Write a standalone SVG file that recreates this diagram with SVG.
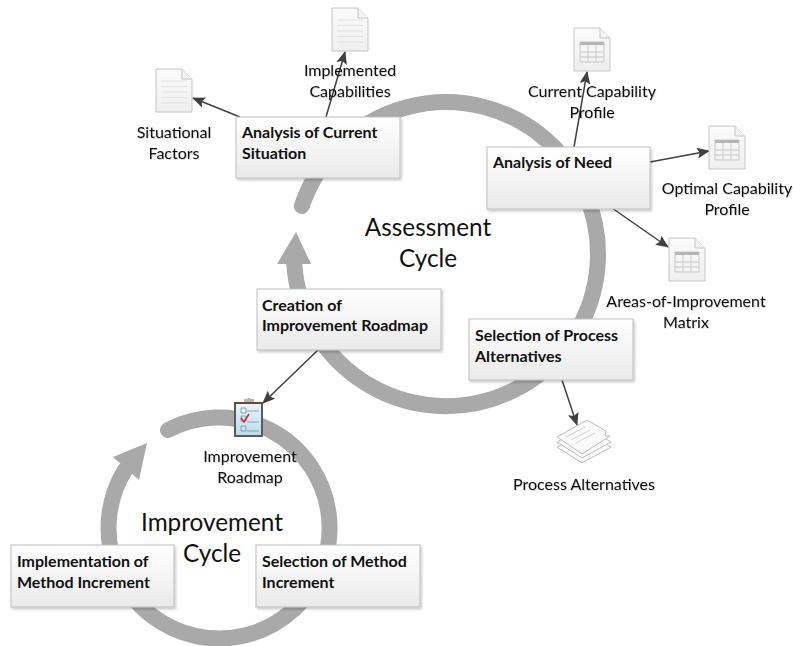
<svg xmlns="http://www.w3.org/2000/svg" xmlns:xlink="http://www.w3.org/1999/xlink" width="793" height="646" viewBox="0 0 793 646">
<style>
text{font-family:"Lato","Open Sans","Liberation Sans",sans-serif;fill:#111}
.lbl{font-size:16px;text-anchor:middle;filter:url(#ts)}
.big{font-size:24.300px;text-anchor:middle}
.b{font-size:16px;font-weight:700}
.box{fill:url(#boxg);stroke:#bdbdbd;stroke-width:1;filter:url(#ds)}
.ring{fill:none;stroke:#a9a9a9;stroke-width:16;stroke-linecap:round}
.head{fill:#a9a9a9}
.conn{stroke:#404040;stroke-width:1.5;fill:none;marker-end:url(#ah)}
.doc{fill:url(#docg);stroke:#c4c4c4;stroke-width:1}
.ln{stroke:#e2e2e2;stroke-width:1;fill:none}
.tb{fill:none;stroke:#c9c9c9;stroke-width:1}
.sheet{fill:#fafafa;stroke:#bdbdbd;stroke-width:1}
</style>
<defs>
<linearGradient id="boxg" x1="0" y1="0" x2="0" y2="1"><stop offset="0" stop-color="#ffffff"/><stop offset="1" stop-color="#eaeaea"/></linearGradient>
<linearGradient id="docg" x1="0" y1="0" x2="0" y2="1"><stop offset="0" stop-color="#fbfbfb"/><stop offset="1" stop-color="#efefef"/></linearGradient>
<linearGradient id="cb" x1="0" y1="0" x2="0" y2="1"><stop offset="0" stop-color="#e8f4fa"/><stop offset="1" stop-color="#b9dcec"/></linearGradient>
<filter id="ds" x="-5%" y="-5%" width="112%" height="115%"><feDropShadow dx="1.5" dy="2" stdDeviation="1" flood-color="#000" flood-opacity="0.2"/></filter>
<filter id="ts" x="-5%" y="-10%" width="110%" height="125%"><feDropShadow dx="0.6" dy="0.8" stdDeviation="0.6" flood-color="#000" flood-opacity="0.2"/></filter>
<marker id="ah" viewBox="0 0 13 11" refX="12" refY="5.500" markerWidth="13" markerHeight="11" markerUnits="userSpaceOnUse" orient="auto"><path d="M0 0L13 5.500L0 11L2.500 5.500Z" fill="#404040"/></marker>
<symbol id="page" overflow="visible"><path class="doc" d="M0 0H26L36 10V43H0Z"/><path d="M26 0V10H36" fill="#f4f4f4" stroke="#c4c4c4"/></symbol>
<symbol id="txtdoc" overflow="visible"><use xlink:href="#page"/><path class="ln" d="M5 12H31M5 17.500H31M5 23H31M5 28.500H31M5 34H31"/></symbol>
<symbol id="tbldoc" overflow="visible"><use xlink:href="#page"/><rect x="6" y="14" width="24" height="20" class="tb"/><rect x="6" y="14" width="24" height="3" fill="#b5b5b5"/><path class="tb" d="M14 17V34M22 17V34M6 24H30M6 29H30"/></symbol>
</defs>
<rect width="793" height="646" fill="#fff"/>
<g id="cycles">
<path class="ring" d="M301.800 206A152 152 0 1 1 294.300 264"/>
<path class="head" d="M296 232L277 264H311Z"/>
<path class="ring" d="M168 430A110.500 110.500 0 1 1 125 470"/>
<path class="head" d="M147 443L113 457L139 480Z"/>
</g>
<g id="connectors">
<line class="conn" x1="240" y1="117" x2="193" y2="98"/>
<line class="conn" x1="326" y1="117" x2="345" y2="52"/>
<line class="conn" x1="574" y1="147" x2="587" y2="72"/>
<line class="conn" x1="650" y1="162" x2="709" y2="151"/>
<line class="conn" x1="612" y1="208" x2="668" y2="247"/>
<line class="conn" x1="562" y1="380" x2="577" y2="425"/>
<line class="conn" x1="318" y1="350" x2="263" y2="403"/>
</g>
<g id="doc-situational"><use xlink:href="#txtdoc" x="156" y="69"/><text class="lbl" x="174" y="138">Situational</text><text class="lbl" x="174" y="159">Factors</text></g>
<g id="doc-implemented"><use xlink:href="#txtdoc" x="332" y="8"/><text class="lbl" x="350" y="76">Implemented</text><text class="lbl" x="350" y="97">Capabilities</text></g>
<g id="doc-current"><use xlink:href="#tbldoc" x="574" y="28"/><text class="lbl" x="592" y="97">Current Capability</text><text class="lbl" x="592" y="118">Profile</text></g>
<g id="doc-optimal"><use xlink:href="#tbldoc" x="709" y="126"/><text class="lbl" x="727" y="194">Optimal Capability</text><text class="lbl" x="727" y="215">Profile</text></g>
<g id="doc-areas"><use xlink:href="#tbldoc" x="669" y="238"/><text class="lbl" x="686" y="307">Areas-of-Improvement</text><text class="lbl" x="686" y="328">Matrix</text></g>
<g id="doc-process">
<path class="sheet" d="M557 447L586 431L611 447L582 463Z"/>
<path class="sheet" d="M557 442L586 426L611 442L582 458Z"/>
<path class="sheet" d="M557 437L587 420L606 431L605 436L610 436L582 454Z"/>
<path d="M566 437L585 427M571 440L590 430M576 443L595 433" fill="none" stroke="#d4d4d4"/>
<text class="lbl" x="584" y="490">Process Alternatives</text>
</g>
<g id="doc-roadmap">
<rect x="234" y="402" width="29" height="35" rx="1" fill="#5a5a5a"/>
<rect x="236" y="404" width="25" height="31" fill="url(#cb)"/>
<rect x="234" y="402" width="29" height="2" fill="#6b4a35"/>
<path d="M244 402V399H247L248 398L250 398L251 399H254V402Z" fill="#b5b5b5"/>
<path d="M241 408h5v5h-5zM241 416h5v5h-5zM241 426h5v5h-5z" fill="none" stroke="#7c8f99" stroke-width="0.8"/>
<path d="M247 411H259M247 422H259M247 431H259" stroke="#7c8f99" stroke-width="0.8"/>
<path d="M241 418L244 422L249 414" fill="none" stroke="#d8232a" stroke-width="1.500"/>
<text class="lbl" x="250" y="462">Improvement</text><text class="lbl" x="250" y="483">Roadmap</text>
</g>
<text class="big" x="428" y="236">Assessment</text><text class="big" x="428" y="267">Cycle</text>
<text class="big" x="212" y="531">Improvement</text><text class="big" x="212" y="562">Cycle</text>
<g id="analysis-current"><rect class="box" x="236" y="117" width="164" height="61"/><text class="b" x="242" y="138">Analysis of Current</text><text class="b" x="242" y="159">Situation</text></g>
<g id="analysis-need"><rect class="box" x="487" y="147" width="163" height="62"/><text class="b" x="493" y="168">Analysis of Need</text></g>
<g id="selection-process"><rect class="box" x="469" y="319" width="164" height="61"/><text class="b" x="475" y="341">Selection of Process</text><text class="b" x="475" y="362">Alternatives</text></g>
<g id="creation-roadmap"><rect class="box" x="257" y="289" width="184" height="61"/><text class="b" x="262" y="311">Creation of</text><text class="b" x="262" y="331">Improvement Roadmap</text></g>
<g id="implementation-method"><rect class="box" x="11" y="545" width="163" height="62"/><text class="b" x="17" y="567">Implementation of</text><text class="b" x="17" y="588">Method Increment</text></g>
<g id="selection-method"><rect class="box" x="256" y="545" width="164" height="62"/><text class="b" x="262" y="567">Selection of Method</text><text class="b" x="262" y="588">Increment</text></g>
</svg>
